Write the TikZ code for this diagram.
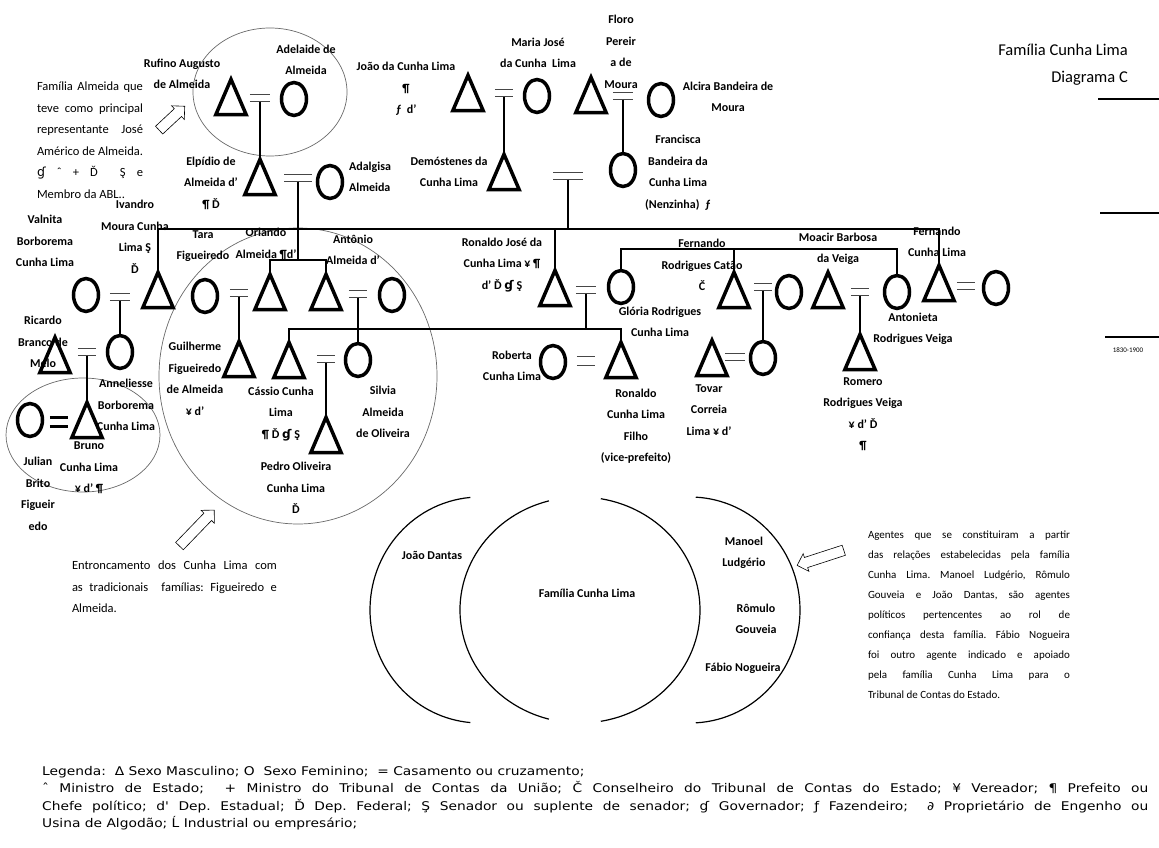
\documentclass[tikz,border=0pt]{standalone}
\usepackage{fontspec}
\setmainfont{Carlito}
\newfontfamily\symfont{DejaVu Sans}
\newfontfamily\legfont[FakeStretch=1.15]{DejaVu Sans}
\usepackage{tikz}
\usetikzlibrary{shapes.geometric,shapes.arrows}
\tikzstyle{male} = [inner sep=0pt, minimum width=30pt, minimum height=35pt, append after command={\pgfextra{\draw[line width=3.5pt, line join=miter] (\tikzlastnode.north) -- (\tikzlastnode.south east) -- (\tikzlastnode.south west) -- cycle;}}]
\tikzstyle{female} = [ellipse, minimum width=25pt, minimum height=33pt, inner sep=0pt, draw=black, line width=3.5pt]
\tikzstyle{wedline} = [draw=wedgray, line width=1.2pt]
\tikzstyle{wedboldline} = [draw=black, line width=3pt]
\tikzstyle{wed} = [inner sep=0pt, minimum width=20pt, minimum height=7pt, append after command={(\tikzlastnode.north west) edge[wedline] (\tikzlastnode.north east) (\tikzlastnode.south west) edge[wedline] (\tikzlastnode.south east)}]
\tikzstyle{wedb} = [inner sep=0pt, minimum width=18pt, minimum height=9pt, append after command={(\tikzlastnode.north west) edge[wedboldline] (\tikzlastnode.north east) (\tikzlastnode.south west) edge[wedboldline] (\tikzlastnode.south east)}]
\tikzstyle{link} = [line width=1.8pt]
\tikzstyle{ring} = [draw=ringgray, line width=0.7pt]
\tikzstyle{arcline} = [draw=black, line width=1.2pt]
\tikzstyle{lbl} = [align=center, inner sep=0pt, font=\lblfont]
\tikzstyle{note} = [align=justify, inner sep=0pt, font=\notefont]
\tikzstyle{hollow} = [single arrow, draw=black, fill=white, line width=0.6pt, inner xsep=0pt, inner ysep=5pt, single arrow head extend=4pt]
\definecolor{ringgray}{RGB}{105,105,105}
\definecolor{wedgray}{RGB}{70,70,70}
\newcommand{\lblfont}{\fontsize{12}{21.5}\selectfont\bfseries}
\newcommand{\notefont}{\fontsize{12.5}{21.5}\selectfont}
\newcommand{\sym}[1]{{\symfont #1}}
\hyphenpenalty=10000
\frenchspacing
\begin{document}
\begin{tikzpicture}[x=1pt,y=1pt]
\useasboundingbox (0,0) rectangle (1159,-848);
\draw[ring] (270,-92) ellipse [x radius=77, y radius=64];
\draw[ring] (298,-376) ellipse [x radius=139, y radius=148];
\draw[ring] (83,-435) ellipse [x radius=77, y radius=57];

\node (rufino) [male] at (231,-97) {};
\node (w1) [wed] at (260,-98) {};
\node (adelaide) [female] at (294,-99) {};
\node (elpidio) [male] at (260,-177) {};
\node (w2) [wed, minimum width=27pt] at (298,-178) {};
\node (adalgisa) [female] at (330,-182) {};
\node (joao) [male] at (468,-93) {};
\node (w3) [wed, minimum width=18pt] at (504,-93) {};
\node (maria) [female] at (537,-96) {};
\node (floro) [male] at (591,-95) {};
\node (w4) [wed] at (623,-96) {};
\node (alcira) [female] at (661,-100) {};
\node (demostenes) [male] at (504,-172) {};
\node (w5) [wed, minimum width=29pt] at (568,-176) {};
\node (francisca) [female] at (623,-170) {};

\node (valnita) [female] at (86,-295) {};
\node (w6) [wed] at (120,-297) {};
\node (ivandro) [male] at (158,-290) {};
\node (tara) [female] at (205,-296) {};
\node (w7) [wed, minimum width=18pt] at (239,-293) {};
\node (orlando) [male] at (270,-292) {};
\node (antonio) [male] at (326,-292) {};
\node (w8) [wed, minimum width=18pt] at (358,-294) {};
\node (antwife) [female] at (392,-295) {};
\node (ricardo) [male] at (55,-355) {};
\node (w9) [wed, minimum width=18pt] at (87,-352) {};
\node (anneliesse) [female] at (120,-352) {};
\node (julian) [female] at (30,-420) {};
\node (w10) [wedb] at (59,-422) {};
\node (bruno) [male] at (87,-420) {};
\node (guilherme) [male] at (239,-359) {};
\node (cassio) [male] at (289,-360) {};
\node (w11) [wed, minimum width=18pt] at (326,-359) {};
\node (silvia) [female] at (358,-360) {};
\node (pedro) [male] at (326,-435) {};

\node (ronaldoj) [male] at (555,-288) {};
\node (w12) [wed] at (586,-290) {};
\node (gloria) [female] at (621,-287) {};
\node (roberta) [female] at (553,-362) {};
\node (w17) [wed, minimum width=18pt, minimum height=9pt] at (586,-361) {};
\node (ronaldof) [male] at (621,-360) {};
\node (catao) [male] at (734,-290) {};
\node (w13) [wed, minimum width=17pt] at (763,-287) {};
\node (cataowife) [female] at (789,-292) {};
\node (tovar) [male] at (712,-358) {};
\node (w14) [wed] at (735,-357) {};
\node (tovarwife) [female] at (763,-358) {};
\node (moacir) [male] at (828,-290) {};
\node (w15) [wed, minimum width=18pt] at (860,-292) {};
\node (antonieta) [female] at (897,-292) {};
\node (romero) [male] at (860,-352) {};
\node (fernandocl) [male] at (939,-283) {};
\node (w16) [wed, minimum width=18pt] at (966,-286) {};
\node (fernwife) [female] at (996,-288) {};

\coordinate (barA) at (298,-260);
\coordinate (barB) at (568,-229);
\coordinate (barC) at (586,-329);
\coordinate (barD) at (734,-249);
\draw[link] (w1.south) -- (elpidio.north);
\draw[link] (w3.south) -- (demostenes.north);
\draw[link] (w4.south) -- (francisca.north);
\draw[link] (w2.south) -- (barA);
\draw[link] (orlando.north) |- (barA) -| (antonio.north);
\draw[link] (w5.south) -- (barB);
\draw[link] (ivandro.north) |- (barB) -| (fernandocl.north);
\draw[link] (ronaldoj.north) -- (ronaldoj.north |- barB);
\draw[link] (w6.south) -- (anneliesse.north);
\draw[link] (w7.south) -- (guilherme.north);
\draw[link] (w8.south) -- (silvia.north);
\draw[link] (w9.south) -- (bruno.north);
\draw[link] (w11.south) -- (pedro.north);
\draw[link] (w12.south) -- (barC);
\draw[link] (cassio.north) |- (barC) -| (ronaldof.north);
\draw[link] (gloria.north) |- (barD) -| (antonieta.north);
\draw[link] (catao.north) -- (barD);
\draw[link] (w13.south) -- (tovarwife.north);
\draw[link] (w15.south) -- (romero.north);

\node (lrufino) [lbl] at (182,-74) {Rufino Augusto\\de Almeida};
\node (ladelaide) [lbl] at (306,-60) {Adelaide de\\Almeida};
\node (nalmeida) [note, text width=106pt] at (90,-140) {Família Almeida que\linebreak teve como principal\linebreak representante José\linebreak Américo de Almeida.\linebreak \sym{ɠ} ˆ + Ď\ \ Ş e\linebreak Membro da ABL..};
\node (lelpidio) [lbl] at (211,-183) {Elpídio de\\Almeida d'\\¶ Ď};
\node (ladalgisa) [lbl, align=left] at (370,-177) {Adalgisa\\Almeida};
\node (ljoao) [lbl] at (406,-89) {João da Cunha Lima\\¶\\ƒ\ \ d'};
\node (lmaria) [lbl] at (538,-53) {Maria José\\da Cunha\ \ Lima};
\node (lfloro) [lbl] at (621,-52) {Floro\\Pereir\\a de\\Moura};
\node (lalcira) [lbl] at (728,-97) {Alcira Bandeira de\\Moura};
\node (ldemostenes) [lbl] at (449,-172) {Demóstenes da\\Cunha Lima};
\node (lfrancisca) [lbl] at (678,-173) {Francisca\\Bandeira da\\Cunha Lima\\(Nenzinha)\ \ ƒ};
\node (title) [anchor=north east, align=right, inner sep=0pt, font=\fontsize{16.5}{27}\selectfont] at (1128,-44) {Família Cunha Lima\\Diagrama C};
\node (livandro) [lbl] at (135,-237) {Ivandro\\Moura Cunha\\Lima Ş\\Ď};
\node (lvalnita) [lbl] at (45,-241) {Valnita\\Borborema\\Cunha Lima};
\node (ltara) [lbl] at (203,-246) {Tara\\Figueiredo};
\node (lorlando) [lbl] at (266,-244) {Orlando\\Almeida ¶d'};
\node (lantonio) [lbl] at (353,-250) {Antônio\\Almeida d'};
\node (lricardo) [lbl] at (43,-342) {Ricardo\\Branco de\\Melo};
\node (lanneliesse) [lbl] at (126,-405) {Anneliesse\\Borborema\\Cunha Lima};
\node (lbruno) [lbl] at (89,-468) {Bruno\\Cunha Lima\\¥ d' ¶};
\node (ljulian) [lbl] at (38,-494) {Julian\\Brito\\Figueir\\edo};
\node (lguilherme) [lbl] at (195,-379) {Guilherme\\Figueiredo\\de Almeida\\¥ d'};
\node (lcassio) [lbl] at (281,-414) {Cássio Cunha\\Lima\\¶ Ď \sym{ɠ} Ş};
\node (lsilvia) [lbl] at (383,-412) {Silvia\\Almeida\\de Oliveira};
\node (lpedro) [lbl] at (296,-488) {Pedro Oliveira\\Cunha Lima\\Ď};
\node (nentronc) [note, text width=205pt] at (174.5,-587) {Entroncamento dos Cunha Lima com\linebreak as tradicionais\ \ famílias: Figueiredo e\linebreak Almeida.};
\node (lronaldoj) [lbl] at (502,-265) {Ronaldo José da\\Cunha Lima ¥ ¶\\d' Ď \sym{ɠ} Ş};
\node (lgloria) [lbl] at (660,-322) {Glória Rodrigues\\Cunha Lima};
\node (lcatao) [lbl] at (702,-265) {Fernando\\Rodrigues Catão\\Č};
\node (lmoacir) [lbl] at (838,-249) {Moacir Barbosa\\da Veiga};
\node (lfernandocl) [lbl] at (937,-242) {Fernando\\Cunha Lima};
\node (lantonieta) [lbl] at (913,-329) {Antonieta\\Rodrigues Veiga};
\node (lromero) [lbl] at (863,-414) {Romero\\Rodrigues Veiga\\¥ d' Ď\\¶};
\node (lroberta) [lbl] at (512,-366) {Roberta\\Cunha Lima};
\node (lronaldof) [lbl] at (636,-426) {Ronaldo\\Cunha Lima\\Filho\\(vice-prefeito)};
\node (ltovar) [lbl] at (709,-410) {Tovar\\Correia\\Lima ¥ d'};

\node (arrowa) [hollow, minimum height=35pt, rotate=43] at (170,-120) {};
\node (arrowb) [hollow, minimum height=50pt, rotate=46] at (195,-530) {};
\node (arrowc) [hollow, minimum height=49pt, rotate=198] at (823,-557) {};

\draw[arcline] (480,-610) ++(95:110 and 113) arc[start angle=95, end angle=265, x radius=110, y radius=113];
\draw[arcline] (580,-610) ++(105:120 and 113) arc[start angle=105, end angle=255, x radius=120, y radius=113];
\draw[arcline] (580,-610) ++(-80:120 and 113) arc[start angle=-80, end angle=80, x radius=120, y radius=113];
\draw[arcline] (690,-610) ++(-87:110 and 113) arc[start angle=-87, end angle=87, x radius=110, y radius=113];
\node (ldantas) [lbl] at (432,-555) {João Dantas};
\node (lfamilia) [lbl] at (587,-593) {Família Cunha Lima};
\node (lmanoel) [lbl] at (744,-553) {Manoel\\Ludgério};
\node (lromulo) [lbl] at (756,-619) {Rômulo\\Gouveia};
\node (lfabio) [lbl] at (743,-668) {Fábio Nogueira};
\node (nagentes) [note, text width=202pt, font=\fontsize{11}{20}\selectfont] at (969,-615) {Agentes que se constituiram a partir\linebreak das relações estabelecidas pela família\linebreak Cunha Lima. Manoel Ludgério, Rômulo\linebreak Gouveia e João Dantas, são agentes\linebreak políticos pertencentes ao rol de\linebreak confiança desta família. Fábio Nogueira\linebreak foi outro agente indicado e apoiado\linebreak pela família Cunha Lima para o\linebreak Tribunal de Contas do Estado.};

\draw[line width=1.2pt] (1098,-99) -- (1159,-99);
\draw[line width=1.2pt] (1100,-213) -- (1159,-213);
\draw[line width=1.2pt] (1105,-337) -- (1159,-337);
\node (period) [inner sep=0pt, font=\fontsize{7}{8}\selectfont] at (1128,-350) {1830-1900};

\node (legend) [anchor=north west, align=left, inner sep=0pt, font=\legfont\fontsize{12}{17.5}\selectfont] at (42,-766) {Legenda:\ \ Δ\ Sexo Masculino; O\ \ Sexo Feminino;\ \ = Casamento ou cruzamento;\\
\makebox[1106pt][s]{ˆ Ministro de Estado;\ \ + Ministro do Tribunal de Contas da União; Č Conselheiro do Tribunal de Contas do Estado; ¥ Vereador; ¶ Prefeito ou}\\
\makebox[1106pt][s]{Chefe político; d' Dep. Estadual; Ď Dep. Federal; Ş Senador ou suplente de senador; ɠ Governador; ƒ Fazendeiro;\ \ ∂ Proprietário de Engenho ou}\\
Usina de Algodão; Ĺ Industrial ou empresário;};
\end{tikzpicture}
\end{document}
